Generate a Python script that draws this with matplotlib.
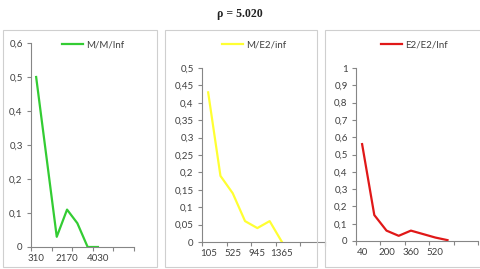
import matplotlib.pyplot as plt
from matplotlib.patches import Rectangle
import numpy as np

# series (category axis, 10 slots each)
mm_cats = ['310', '930', '1550', '2170', '2790', '3410', '4030']
mm_vals = [0.5, 0.265, 0.03, 0.11, 0.07, 0.0, 0.0]

me2_cats = ['105', '315', '525', '735', '945', '1155', '1365']
me2_vals = [0.43, 0.19, 0.14, 0.06, 0.04, 0.06, 0.0]

e2_cats = ['40', '120', '200', '280', '360', '440', '520', '600']
e2_vals = [0.56, 0.15, 0.06, 0.03, 0.06, 0.04, 0.02, 0.005]

title = 'ρ = 5.020'

W, H = 481, 269
txt = '#404040'
axc = '#868686'
fs = 7

fig = plt.figure(figsize=(W / 100, H / 100), dpi=100)
fig.patch.set_facecolor('white')

def px_axes(x0, x1, ytop, ybot):
    return fig.add_axes([x0 / W, 1 - ybot / H, (x1 - x0) / W, (ybot - ytop) / H])

def frame(x0, x1):
    fig.patches.append(Rectangle((x0 / W, 1 - 267 / H), (x1 - x0) / W, 237 / H,
                                 transform=fig.transFigure, fill=False,
                                 edgecolor='#cfcfcf', linewidth=0.8))

def panel(ax, cats, vals, color, label, ymax, ystep, label_every, leg_x, n_slots=10):
    pos = np.arange(len(vals))
    ax.plot(pos, vals, color=color, linewidth=1.6, label=label, solid_joinstyle='round')
    ax.set_xlim(-0.5, n_slots - 0.5)
    ax.set_ylim(0, ymax)
    ax.set_facecolor('none')
    for s in ['top', 'right']:
        ax.spines[s].set_visible(False)
    for s in ['left', 'bottom']:
        ax.spines[s].set_color(axc)
        ax.spines[s].set_linewidth(0.8)
    # tick marks between categories, every 2nd boundary
    ax.set_xticks(np.arange(-0.5, n_slots, 2))
    ax.set_xticklabels([])
    ax.tick_params(axis='x', which='major', length=3, color=axc, width=0.8)
    lab_pos = [i for i in range(0, len(cats), label_every)]
    ax.set_xticks(lab_pos, minor=True)
    ax.set_xticklabels([cats[i] for i in lab_pos], minor=True)
    ax.tick_params(axis='x', which='minor', length=0, pad=5, labelsize=fs, labelcolor=txt)
    yt = np.round(np.arange(0, ymax + ystep / 2, ystep), 3)
    ax.set_yticks(yt)
    ax.set_yticklabels([('%g' % v).replace('.', ',') for v in yt])
    ax.tick_params(axis='y', length=3, color=axc, width=0.8, pad=3, labelsize=fs, labelcolor=txt)
    for t in ax.get_xticklabels(minor=True) + ax.get_yticklabels():
        t.set_fontfamily('Lato')
    leg = ax.legend(loc='center left', bbox_to_anchor=(leg_x / W, 1 - 45 / H),
                    bbox_transform=fig.transFigure, frameon=False, borderpad=0,
                    borderaxespad=0, handlelength=2.2, handletextpad=0.3,
                    prop={'family': 'Lato', 'size': fs})
    for t in leg.get_texts():
        t.set_color(txt)

frame(3, 157)
frame(165, 317)
frame(325, 483)

ax1 = px_axes(31, 134, 43, 247)
panel(ax1, mm_cats, mm_vals, '#33cc33', 'M/M/Inf', 0.6, 0.1, 3, 62)

ax2 = px_axes(202, 325, 68, 242)
panel(ax2, me2_cats, me2_vals, '#ffff33', 'M/E2/inf', 0.5, 0.05, 2, 222)

ax3 = px_axes(356, 478, 68, 241)
panel(ax3, e2_cats, e2_vals, '#e01818', 'E2/E2/Inf', 1.0, 0.1, 2, 381)

fig.text(240 / W, 1 - 14 / H, title, ha='center', va='center',
         fontfamily='Liberation Serif', fontweight='bold', fontsize=8.5, color='#222222')

fig.savefig('out.png', dpi=100)
